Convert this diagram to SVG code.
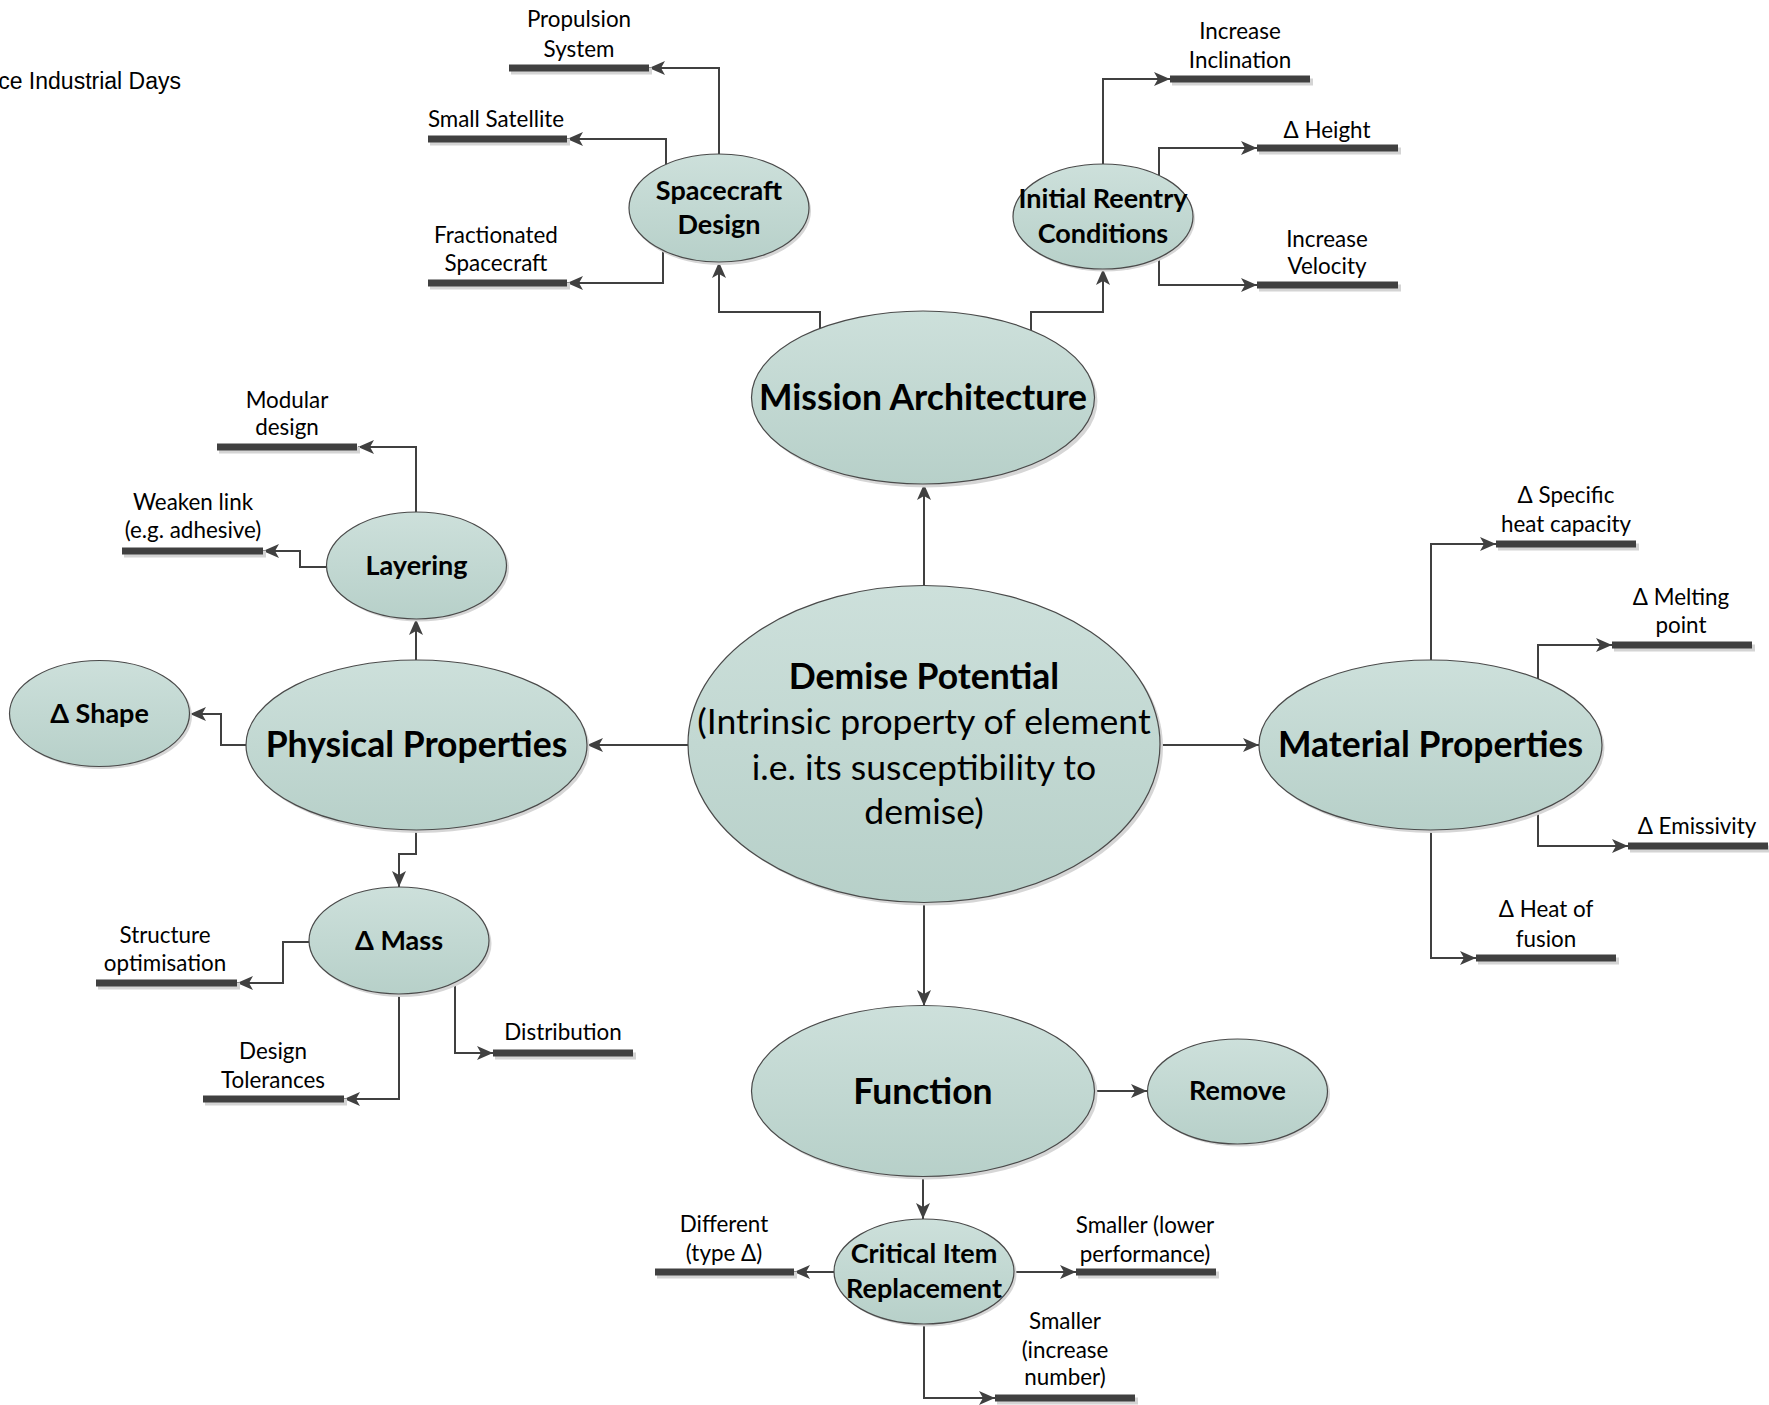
<svg xmlns="http://www.w3.org/2000/svg" width="1769" height="1405" viewBox="0 0 1769 1405">
<defs>
<linearGradient id="fill" x1="0" y1="0" x2="0" y2="1">
<stop offset="0" stop-color="#cde0db"/>
<stop offset="1" stop-color="#b7d0c9"/>
</linearGradient>
<marker id="arr" markerUnits="userSpaceOnUse" markerWidth="18" markerHeight="16" refX="16" refY="8" orient="auto" viewBox="0 0 18 16">
<path d="M0,1 L16,8 L0,15 L4,8 Z" fill="#404040"/>
</marker>
</defs>
<style>
.node ellipse.sh{fill:#d6d6d6;stroke:none}
.node ellipse.bd{fill:url(#fill);stroke:#4a4a4a;stroke-width:1.2}
.nb{font-family:Lato,"Open Sans",sans-serif;font-weight:bold;fill:#000;text-anchor:middle;font-size:27px}
.big{font-size:35.5px}
.lab{font-family:Lato,"Open Sans",sans-serif;font-size:22.4px;fill:#000;text-anchor:middle}
.dp{font-size:35.6px}
.bar{stroke:#404040;stroke-width:7}
.barsh{stroke:#d4d4d4;stroke-width:7}
#connectors path{fill:none;stroke:#404040;stroke-width:2;marker-end:url(#arr)}
</style>
<rect width="1769" height="1405" fill="#fff"/>
<text x="181" y="89" font-family="Liberation Sans, Arial, sans-serif" font-size="23" text-anchor="end" fill="#000">ce Industrial Days</text>

<g id="connectors">
<path d="M820,330 V312 H719 V262"/>
<path d="M1031,332 V312 H1103 V269"/>
<path d="M719,154 V68 H649"/>
<path d="M666,165 V139 H567"/>
<path d="M663,250 V283 H567"/>
<path d="M1103,164 V79 H1170"/>
<path d="M1159,176 V148 H1257"/>
<path d="M1159,257 V285 H1257"/>
<path d="M924,585 V484"/>
<path d="M688,745 H587"/>
<path d="M1160,745 H1259"/>
<path d="M924,903 V1006"/>
<path d="M416,660 V619"/>
<path d="M246,745 H221 V714 H190"/>
<path d="M416,830 V854 H399 V887"/>
<path d="M416,512 V447 H358"/>
<path d="M326,567 H300 V551 H263"/>
<path d="M309,942 H283 V983 H237"/>
<path d="M455,982 V1053 H493"/>
<path d="M399,994 V1099 H344"/>
<path d="M1431,660 V544 H1496"/>
<path d="M1538,679 V645 H1612"/>
<path d="M1538,811 V846 H1628"/>
<path d="M1431,830 V958 H1476"/>
<path d="M1094,1091 H1147"/>
<path d="M923,1177 V1219"/>
<path d="M834,1272 H794"/>
<path d="M1014,1272 H1076"/>
<path d="M924,1324 V1398 H995"/>
</g>

<g id="leaves">
<g id="leaf-propulsion"><line class="barsh" x1="511" y1="71" x2="652" y2="71"/><line class="bar" x1="509" y1="68" x2="649" y2="68"/><text class="lab" x="579" y="27">Propulsion</text><text class="lab" x="579" y="57">System</text></g>
<g id="leaf-smallsat"><line class="barsh" x1="430" y1="142" x2="570" y2="142"/><line class="bar" x1="428" y1="139" x2="567" y2="139"/><text class="lab" x="496" y="127">Small Satellite</text></g>
<g id="leaf-fractionated"><line class="barsh" x1="430" y1="286" x2="570" y2="286"/><line class="bar" x1="428" y1="283" x2="567" y2="283"/><text class="lab" x="496" y="243">Fractionated</text><text class="lab" x="496" y="271">Spacecraft</text></g>
<g id="leaf-inclination"><line class="barsh" x1="1172" y1="82" x2="1313" y2="82"/><line class="bar" x1="1170" y1="79" x2="1310" y2="79"/><text class="lab" x="1240" y="39">Increase</text><text class="lab" x="1240" y="68">Inclination</text></g>
<g id="leaf-height"><line class="barsh" x1="1259" y1="151" x2="1401" y2="151"/><line class="bar" x1="1257" y1="148" x2="1398" y2="148"/><text class="lab" x="1327" y="138">Δ Height</text></g>
<g id="leaf-velocity"><line class="barsh" x1="1259" y1="288" x2="1401" y2="288"/><line class="bar" x1="1257" y1="285" x2="1398" y2="285"/><text class="lab" x="1327" y="247">Increase</text><text class="lab" x="1327" y="274">Velocity</text></g>
<g id="leaf-modular"><line class="barsh" x1="219" y1="450" x2="360" y2="450"/><line class="bar" x1="217" y1="447" x2="357" y2="447"/><text class="lab" x="287" y="408">Modular</text><text class="lab" x="287" y="435">design</text></g>
<g id="leaf-weaken"><line class="barsh" x1="124" y1="554" x2="266" y2="554"/><line class="bar" x1="122" y1="551" x2="263" y2="551"/><text class="lab" x="193" y="510">Weaken link</text><text class="lab" x="193" y="538">(e.g. adhesive)</text></g>
<g id="leaf-specific"><line class="barsh" x1="1498" y1="547" x2="1639" y2="547"/><line class="bar" x1="1496" y1="544" x2="1636" y2="544"/><text class="lab" x="1566" y="503">Δ Specific</text><text class="lab" x="1566" y="532">heat capacity</text></g>
<g id="leaf-melting"><line class="barsh" x1="1614" y1="648" x2="1755" y2="648"/><line class="bar" x1="1612" y1="645" x2="1752" y2="645"/><text class="lab" x="1681" y="605">Δ Melting</text><text class="lab" x="1681" y="633">point</text></g>
<g id="leaf-emissivity"><line class="barsh" x1="1630" y1="849" x2="1769" y2="849"/><line class="bar" x1="1628" y1="846" x2="1768" y2="846"/><text class="lab" x="1697" y="834">Δ Emissivity</text></g>
<g id="leaf-heat"><line class="barsh" x1="1478" y1="961" x2="1619" y2="961"/><line class="bar" x1="1476" y1="958" x2="1616" y2="958"/><text class="lab" x="1546" y="917">Δ Heat of</text><text class="lab" x="1546" y="947">fusion</text></g>
<g id="leaf-structure"><line class="barsh" x1="98" y1="986" x2="240" y2="986"/><line class="bar" x1="96" y1="983" x2="237" y2="983"/><text class="lab" x="165" y="943">Structure</text><text class="lab" x="165" y="971">optimisation</text></g>
<g id="leaf-distribution"><line class="barsh" x1="495" y1="1056" x2="636" y2="1056"/><line class="bar" x1="493" y1="1053" x2="633" y2="1053"/><text class="lab" x="563" y="1040">Distribution</text></g>
<g id="leaf-tolerances"><line class="barsh" x1="205" y1="1102" x2="347" y2="1102"/><line class="bar" x1="203" y1="1099" x2="344" y2="1099"/><text class="lab" x="273" y="1059">Design</text><text class="lab" x="273" y="1088">Tolerances</text></g>
<g id="leaf-different"><line class="barsh" x1="657" y1="1275" x2="797" y2="1275"/><line class="bar" x1="655" y1="1272" x2="794" y2="1272"/><text class="lab" x="724" y="1232">Different</text><text class="lab" x="724" y="1261">(type Δ)</text></g>
<g id="leaf-smaller-lower"><line class="barsh" x1="1078" y1="1275" x2="1219" y2="1275"/><line class="bar" x1="1076" y1="1272" x2="1216" y2="1272"/><text class="lab" x="1145" y="1233">Smaller (lower</text><text class="lab" x="1145" y="1262">performance)</text></g>
<g id="leaf-smaller-increase"><line class="barsh" x1="997" y1="1401" x2="1138" y2="1401"/><line class="bar" x1="995" y1="1398" x2="1135" y2="1398"/><text class="lab" x="1065" y="1329">Smaller</text><text class="lab" x="1065" y="1358">(increase</text><text class="lab" x="1065" y="1385">number)</text></g>
</g>

<g id="n-spacecraft" class="node"><ellipse class="sh" cx="721" cy="211" rx="90" ry="54"/><ellipse class="bd" cx="719" cy="208" rx="90" ry="54"/><text class="nb" x="719" y="200">Spacecraft</text><text class="nb" x="719" y="234">Design</text></g>
<g id="n-reentry" class="node"><ellipse class="sh" cx="1105" cy="219" rx="90" ry="52.5"/><ellipse class="bd" cx="1103" cy="216.5" rx="90" ry="52.5"/><text class="nb" x="1103" y="208">Initial Reentry</text><text class="nb" x="1103" y="243">Conditions</text></g>
<g id="n-mission" class="node"><ellipse class="sh" cx="926" cy="401" rx="171.5" ry="86.5"/><ellipse class="bd" cx="923" cy="397.5" rx="171.5" ry="86.5"/><text class="nb big" x="923" y="410">Mission Architecture</text></g>
<g id="n-layering" class="node"><ellipse class="sh" cx="419" cy="568" rx="90" ry="53.5"/><ellipse class="bd" cx="416.5" cy="565.5" rx="90" ry="53.5"/><text class="nb" x="416.5" y="575">Layering</text></g>
<g id="n-shape" class="node"><ellipse class="sh" cx="102" cy="716" rx="90" ry="53"/><ellipse class="bd" cx="99.5" cy="713.5" rx="90" ry="53"/><text class="nb" x="99.5" y="723">Δ Shape</text></g>
<g id="n-physical" class="node"><ellipse class="sh" cx="419" cy="748" rx="170.5" ry="85"/><ellipse class="bd" cx="416.5" cy="745" rx="170.5" ry="85"/><text class="nb big" x="416.5" y="757">Physical Properties</text></g>
<g id="n-demise" class="node"><ellipse class="sh" cx="927" cy="747" rx="236" ry="158.5"/><ellipse class="bd" cx="924" cy="744" rx="236" ry="158.5"/><text class="nb big" x="924" y="689">Demise Potential</text><text class="lab dp" x="924" y="734">(Intrinsic property of element</text><text class="lab dp" x="924" y="780">i.e. its susceptibility to</text><text class="lab dp" x="924" y="824">demise)</text></g>
<g id="n-material" class="node"><ellipse class="sh" cx="1433" cy="748" rx="171.5" ry="85"/><ellipse class="bd" cx="1430.5" cy="745" rx="171.5" ry="85"/><text class="nb big" x="1430.5" y="757">Material Properties</text></g>
<g id="n-mass" class="node"><ellipse class="sh" cx="401.5" cy="943.5" rx="90" ry="53.5"/><ellipse class="bd" cx="399" cy="940.5" rx="90" ry="53.5"/><text class="nb" x="399" y="950">Δ Mass</text></g>
<g id="n-function" class="node"><ellipse class="sh" cx="926" cy="1094" rx="171.5" ry="85.5"/><ellipse class="bd" cx="923" cy="1091" rx="171.5" ry="85.5"/><text class="nb big" x="923" y="1104">Function</text></g>
<g id="n-remove" class="node"><ellipse class="sh" cx="1240" cy="1094" rx="90" ry="52.5"/><ellipse class="bd" cx="1237.5" cy="1091.5" rx="90" ry="52.5"/><text class="nb" x="1237.5" y="1100">Remove</text></g>
<g id="n-critical" class="node"><ellipse class="sh" cx="926.5" cy="1274" rx="90" ry="52.5"/><ellipse class="bd" cx="924" cy="1271.5" rx="90" ry="52.5"/><text class="nb" x="924" y="1263">Critical Item</text><text class="nb" x="924" y="1298">Replacement</text></g>
</svg>
